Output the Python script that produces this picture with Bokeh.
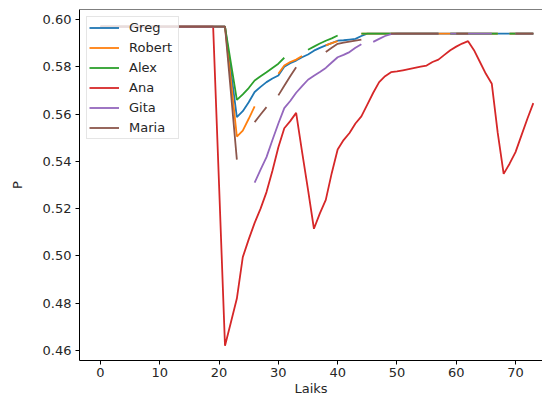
import numpy as np
from bokeh.plotting import figure
from bokeh.models import Range1d, FixedTicker, PrintfTickFormatter, Legend, LegendItem, Span, ColumnDataSource
from bokeh.embed import file_html
from bokeh.resources import INLINE

N = np.nan

# x positions (Laiks)
laiks = list(range(74))

greg = [
    0.597, 0.597, 0.597, 0.597, 0.597, 0.597, 0.597, 0.597, 0.597, 0.597,
    0.597, 0.597, 0.597, 0.597, 0.597, 0.597, 0.597, 0.597, 0.597, 0.597,
    0.597, 0.597, 0.578, 0.5587, 0.5612, 0.565, 0.5693, 0.5715, 0.5735, 0.575,
    0.5763, 0.580, 0.5815, 0.5826, 0.584, 0.5852, 0.5868, 0.588, 0.589, 0.590,
    0.591, 0.5912, 0.5915, 0.5918, 0.593, 0.594, 0.594, 0.594, 0.594, 0.594,
    0.594, 0.594, 0.594, 0.594, 0.594, 0.594, 0.594, 0.594, 0.594, 0.594,
    0.594, 0.594, 0.594, 0.594, 0.594, 0.594, 0.594, 0.594, 0.594, 0.594,
    0.594, 0.594, 0.594, 0.594,
]

robert = [
    0.597, 0.597, 0.597, 0.597, 0.597, 0.597, 0.597, 0.597, 0.597, 0.597,
    0.597, 0.597, 0.597, 0.597, 0.597, 0.597, 0.597, 0.597, 0.597, 0.597,
    0.597, 0.597, 0.574, 0.5505, 0.553, 0.558, 0.5632, N, N, N,
    0.577, 0.5805, 0.582, 0.583, 0.5845, N, N, N, 0.589, 0.590,
    0.5908, N, N, N, 0.594, 0.594, 0.594, 0.594, 0.594, 0.594,
    0.594, 0.594, 0.594, 0.594, 0.594, 0.594, 0.594, 0.594, 0.594, 0.594,
    0.594, 0.594, 0.594, 0.594, 0.594, 0.594, 0.594, 0.594, N, 0.594,
    0.594, 0.594, 0.594, 0.594,
]

alex = [
    0.597, 0.597, 0.597, 0.597, 0.597, 0.597, 0.597, 0.597, 0.597, 0.597,
    0.597, 0.597, 0.597, 0.597, 0.597, 0.597, 0.597, 0.597, 0.597, 0.597,
    0.597, 0.597, 0.5815, 0.566, 0.5683, 0.571, 0.5742, 0.576, 0.5777, 0.5795,
    0.5813, 0.5838, N, N, N, 0.5872, 0.5885, 0.5898, 0.591, 0.592,
    0.5932, N, N, N, 0.594, 0.594, 0.594, 0.594, 0.594, 0.594,
    0.594, 0.594, 0.594, 0.594, 0.594, 0.594, 0.594, 0.594, N, 0.594,
    0.594, 0.594, 0.594, 0.594, 0.594, 0.594, 0.594, 0.594, N, 0.594,
    0.594, 0.594, 0.594, 0.594,
]

ana = [
    0.597, 0.597, 0.597, 0.597, 0.597, 0.597, 0.597, 0.597, 0.597, 0.597,
    0.597, 0.597, 0.597, 0.597, 0.597, 0.597, 0.597, 0.597, 0.597, 0.597,
    0.530, 0.462, 0.472, 0.482, 0.4995, 0.507, 0.514, 0.520, 0.527, 0.536,
    0.546, 0.554, 0.557, 0.5605, 0.544, 0.528, 0.5115, 0.518, 0.5237, 0.535,
    0.545, 0.549, 0.552, 0.556, 0.559, 0.564, 0.569, 0.5735, 0.576, 0.5777,
    0.578, 0.5785, 0.579, 0.5795, 0.580, 0.5805, 0.582, 0.583, 0.585, 0.587,
    0.5885, 0.5898, 0.5908, 0.587, 0.582, 0.577, 0.5728, 0.552, 0.5347, 0.539,
    0.5439, 0.551, 0.558, 0.5646,
]

gita = [
    0.597, 0.597, 0.597, 0.597, 0.597, 0.597, 0.597, 0.597, 0.597, 0.597,
    0.597, 0.597, 0.597, 0.597, 0.597, 0.597, 0.597, 0.597, 0.597, 0.597,
    0.597, 0.597, N, N, N, N, 0.531, 0.5365, 0.5418, 0.549,
    0.556, 0.5625, 0.5655, 0.569, 0.5718, 0.5745, 0.5762, 0.5778, 0.5795, 0.5818,
    0.584, 0.585, 0.5862, 0.588, 0.5895, N, 0.5905, 0.5918, 0.593, 0.5938,
    0.594, 0.594, 0.594, 0.594, 0.594, 0.594, 0.594, 0.594, N, 0.594,
    0.594, 0.594, 0.594, 0.594, 0.594, 0.594, 0.594, N, N, N,
    0.594, 0.594, 0.594, 0.594,
]

maria = [
    0.597, 0.597, 0.597, 0.597, 0.597, 0.597, 0.597, 0.597, 0.597, 0.597,
    0.597, 0.597, 0.597, 0.597, 0.597, 0.597, 0.597, 0.597, 0.597, 0.597,
    0.597, 0.597, 0.569, 0.5407, N, N, 0.5566, 0.5598, 0.5629, N,
    0.5679, 0.572, 0.576, 0.5798, N, N, N, N, 0.5862, 0.588,
    0.5897, 0.5902, 0.5906, 0.591, 0.5915, N, N, N, N, 0.594,
    0.594, 0.594, 0.594, 0.594, 0.594, 0.594, 0.594, 0.594, N, N,
    0.594, 0.594, 0.594, N, N, N, N, N, N, N,
    0.594, 0.594, 0.594, 0.594,
]

names = ["Greg", "Robert", "Alex", "Ana", "Gita", "Maria"]
series = [greg, robert, alex, ana, gita, maria]
colors = ["#1f77b4", "#ff7f0e", "#2ca02c", "#d62728", "#9467bd", "#8c564b"]

xticks = [0, 10, 20, 30, 40, 50, 60, 70]
yticks = [0.46, 0.48, 0.50, 0.52, 0.54, 0.56, 0.58, 0.60]

FONT = "DejaVu Sans"
TXT = "#262626"

Y_TOP = 0.6042
p = figure(width=542, height=398,
           x_range=Range1d(-3.54, 74.55), y_range=Range1d(0.4558, Y_TOP),
           output_backend="svg", toolbar_location=None,
           min_border_left=79, min_border_right=0, min_border_top=9, min_border_bottom=10)
p.outline_line_color = None
p.xgrid.visible = False
p.ygrid.visible = False
p.background_fill_color = "white"
p.border_fill_color = "white"

items = []
for name, ys, c in zip(names, series, colors):
    src = ColumnDataSource(dict(x=laiks, y=np.array(ys, dtype=float)))
    r = p.line("x", "y", source=src, line_color=c, line_width=1.8)
    items.append(LegendItem(label=name, renderers=[r]))

p.add_layout(Span(location=Y_TOP, dimension="width", line_color="black", line_width=1))

p.xaxis.ticker = FixedTicker(ticks=xticks)
p.yaxis.ticker = FixedTicker(ticks=yticks)
p.yaxis.formatter = PrintfTickFormatter(format="%.2f")
p.xaxis.axis_label = "Laiks"
p.yaxis.axis_label = "P"
for ax in (p.xaxis, p.yaxis):
    ax.minor_tick_line_color = None
    ax.major_tick_out = 4
    ax.major_tick_in = 0
    ax.axis_line_color = "black"
    ax.major_tick_line_color = "black"
    ax.major_label_text_font = FONT
    ax.major_label_text_font_size = "13px"
    ax.major_label_text_color = TXT
    ax.axis_label_text_font = FONT
    ax.axis_label_text_font_size = "13px"
    ax.axis_label_text_font_style = "normal"
    ax.axis_label_text_color = TXT
p.xaxis.major_label_standoff = 3
p.yaxis.major_label_standoff = 4
p.xaxis.axis_label_standoff = 1
p.yaxis.axis_label_standoff = 15

legend = Legend(items=items, location="top_left")
legend.margin = 7
legend.padding = 2
legend.spacing = 3
legend.glyph_width = 30
legend.glyph_height = 17
legend.label_height = 17
legend.label_width = 47
legend.label_standoff = 10
legend.label_text_font = FONT
legend.label_text_font_size = "13px"
legend.label_text_color = TXT
legend.border_line_color = "#cccccc"
legend.background_fill_alpha = 0.8
p.add_layout(legend)

open("out.html", "w").write(file_html(p, INLINE))
